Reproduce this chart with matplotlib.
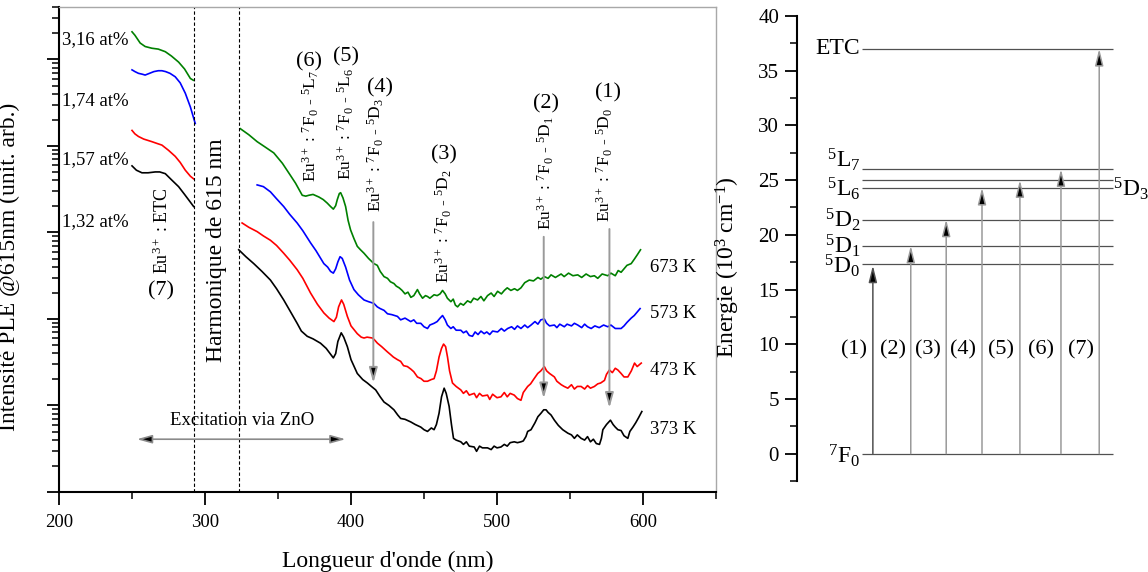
import matplotlib
matplotlib.use('Agg')
import matplotlib.pyplot as plt
import numpy as np
from matplotlib.ticker import LogLocator, NullFormatter, MultipleLocator

plt.rcParams['font.family'] = ['Liberation Serif', 'DejaVu Serif']
plt.rcParams['mathtext.fontset'] = 'custom'
plt.rcParams['mathtext.rm'] = 'Liberation Serif'
plt.rcParams['mathtext.it'] = 'Liberation Serif:italic'
plt.rcParams['mathtext.bf'] = 'Liberation Serif:bold'

# ---------------- donnees (log10 de l'intensite, unit. arb.) ----------------
# 673 K / 3,16 at%
wl_green_a = [250, 252, 255.6, 259, 263.6, 268, 272.8, 277, 281.9, 286, 290, 292]
lg_green_a = [5.32, 5.28, 5.19, 5.15, 5.13, 5.12, 5.09, 5.04, 4.97, 4.89, 4.78, 4.76]
wl_green_b = [324.2, 330, 335.7, 341, 347.1, 353, 358.5, 362, 366.6, 369, 371.1, 374, 378.0, 381,
              383.7, 386, 387.9, 389.5, 390.6, 392.0, 392.9, 394.5, 396.3, 398, 399.7, 402, 404.3,
              406.5, 408.9, 412, 415.7, 418, 420, 422.6, 425, 427, 429.4, 431, 433, 435, 437, 439,
              441, 443, 445.5, 447, 449, 451, 452.4, 454, 456.9, 459, 461, 462.7, 464.5, 466, 468.4,
              470, 471.5, 473.0, 475, 477, 479.8, 482, 484, 486.7, 489, 491, 493.5, 496, 498, 500.4,
              503, 505, 507, 509.5, 512, 514, 516.4, 519, 522.1, 525, 528, 530, 532.4, 535, 537, 540,
              543.9, 546, 549, 552, 555.3, 558, 561, 564, 566.7, 569, 572, 575.9, 578, 581, 583, 585.0,
              587, 589, 591.9, 594, 596, 598.3]
lg_green_b = [4.20, 4.13, 4.05, 3.99, 3.92, 3.80, 3.66, 3.57, 3.43, 3.42, 3.43, 3.44, 3.41, 3.38,
              3.34, 3.30, 3.27, 3.31, 3.38, 3.45, 3.46, 3.40, 3.30, 3.14, 3.03, 2.93, 2.84,
              2.80, 2.76, 2.70, 2.64, 2.62, 2.55, 2.49, 2.47, 2.43, 2.41, 2.38, 2.36, 2.33, 2.29, 2.31,
              2.25, 2.27, 2.34, 2.29, 2.24, 2.27, 2.26, 2.24, 2.28, 2.27, 2.29, 2.33, 2.29, 2.24, 2.20,
              2.23, 2.16, 2.14, 2.18, 2.16, 2.21, 2.19, 2.24, 2.22, 2.26, 2.21, 2.27, 2.30, 2.26, 2.32,
              2.29, 2.33, 2.36, 2.33, 2.35, 2.33, 2.36, 2.42, 2.45, 2.44, 2.48, 2.46, 2.49, 2.47, 2.51, 2.48,
              2.52, 2.49, 2.53, 2.50, 2.51, 2.48, 2.52, 2.49, 2.50, 2.47, 2.52, 2.50, 2.53, 2.50, 2.56, 2.54,
              2.58, 2.62, 2.64, 2.69, 2.74, 2.80]

# 573 K / 1,74 at%
wl_blue_a = [250, 252, 254.4, 257, 259, 262, 265, 268, 270.5, 273, 276, 279.6, 283, 286.5, 290, 293.3]
lg_blue_a = [4.88, 4.86, 4.84, 4.83, 4.82, 4.84, 4.86, 4.87, 4.87, 4.86, 4.84, 4.80, 4.73, 4.61, 4.45, 4.26]
wl_blue_b = [335.7, 340, 344.8, 349, 353.9, 358, 363.1, 367, 372.3, 376, 381.4, 384, 386, 387.9,
             389.5, 391, 392.5, 394, 396.3, 399, 402.0, 405, 408.9, 412, 415.7, 418, 420, 422.6, 425,
             428, 431.8, 434, 437, 440.9, 443, 445, 447.8, 450, 452.4, 454, 456.9, 459, 461, 462.7,
             464.5, 466, 468.4, 470, 472, 475.2, 477, 479, 481, 483.2, 485, 487, 489, 491.2, 493, 495,
             497, 500.4, 503, 505, 507.3, 510, 512, 514, 516.4, 519, 521, 523.3, 526, 528, 530, 532.4,
             534, 536, 539.3, 541, 543, 546.1, 548, 551, 553, 555.3, 558, 560, 562, 564.5, 567, 570,
             573, 575.9, 578, 581, 585.0, 587, 589, 591.9, 594, 596, 598]
lg_blue_b = [3.55, 3.53, 3.47, 3.39, 3.30, 3.21, 3.11, 3.02, 2.88, 2.79, 2.64, 2.60, 2.55, 2.53,
             2.58, 2.66, 2.72, 2.70, 2.60, 2.45, 2.34, 2.28, 2.22, 2.20, 2.18, 2.14, 2.12, 2.10, 2.06,
             2.05, 2.03, 1.99, 2.01, 1.97, 1.99, 1.95, 1.95, 1.91, 1.89, 1.93, 1.95, 1.97, 2.01, 2.04,
             1.99, 1.93, 1.89, 1.91, 1.87, 1.87, 1.84, 1.86, 1.81, 1.80, 1.85, 1.82, 1.86, 1.83, 1.85, 1.82,
             1.86, 1.85, 1.89, 1.86, 1.89, 1.91, 1.88, 1.92, 1.89, 1.93, 1.90, 1.93, 1.97, 1.94, 1.99, 2.00,
             1.95, 1.92, 1.93, 1.90, 1.94, 1.91, 1.94, 1.92, 1.95, 1.93, 1.90, 1.94, 1.91, 1.89, 1.92, 1.90,
             1.93, 1.91, 1.93, 1.89, 1.89, 1.92, 1.96, 2.01, 2.04, 2.08, 2.12]

# 473 K / 1,57 at%
wl_red_a = [250, 252, 254.4, 258, 263.6, 267, 270.5, 275, 279.6, 283, 286.5, 290, 292.2]
lg_red_a = [4.18, 4.14, 4.11, 4.08, 4.05, 4.03, 4.01, 3.95, 3.88, 3.81, 3.72, 3.65, 3.62]
wl_red_b = [325.4, 330, 335.7, 340, 344.8, 349, 353.9, 358, 363.1, 367, 372.3, 377, 381.4, 385,
            388.3, 390, 391.5, 393.5, 395, 397.5, 400, 404.3, 407, 408.9, 411, 414.6, 416, 418.1, 421,
            424.9, 427, 429, 431.8, 434, 436, 438.6, 441, 443, 445.5, 448, 450, 452.4, 455, 456.9,
            458.5, 460.3, 462, 463.4, 464.8, 466.1, 467.5, 469.5, 472, 475.2, 477, 479, 481, 484.4,
            486, 488, 490, 493.5, 495, 497, 500, 502.7, 505, 507, 509, 511.8, 514, 516.4, 518, 521.0,
            523, 525, 527.9, 530, 532.4, 534, 536, 539.3, 541, 544, 546, 548.5, 551, 553, 555, 557.6,
            560, 562, 564, 566.7, 569, 571, 573.6, 575, 577.0, 579, 581, 582.8, 585, 587, 589.6, 592,
            594.2, 596, 598.8]
lg_red_b = [3.11, 3.06, 3.01, 2.96, 2.91, 2.85, 2.76, 2.68, 2.57, 2.47, 2.30, 2.17, 2.07, 2.01,
            1.97, 2.02, 2.14, 2.22, 2.17, 2.03, 1.92, 1.83, 1.79, 1.78, 1.79, 1.78, 1.76, 1.72, 1.68,
            1.62, 1.59, 1.56, 1.53, 1.51, 1.46, 1.45, 1.42, 1.39, 1.33, 1.31, 1.28, 1.28, 1.30, 1.31,
            1.40, 1.56, 1.66, 1.71, 1.68, 1.56, 1.40, 1.26, 1.22, 1.18, 1.14, 1.17, 1.12, 1.14,
            1.09, 1.14, 1.11, 1.12, 1.07, 1.13, 1.09, 1.10, 1.15, 1.10, 1.14, 1.12, 1.08, 1.06, 1.15, 1.22,
            1.25, 1.30, 1.37, 1.40, 1.45, 1.40, 1.37, 1.33, 1.28, 1.24, 1.22, 1.20, 1.24, 1.19, 1.22, 1.22,
            1.19, 1.23, 1.20, 1.22, 1.25, 1.26, 1.29, 1.36, 1.41, 1.38, 1.43, 1.41, 1.37, 1.33, 1.33, 1.40,
            1.49, 1.45, 1.49]

# 373 K / 1,32 at%
wl_black_a = [250, 253, 256.8, 261, 265.9, 269, 272.8, 277, 281.9, 286, 290, 292.2]
lg_black_a = [3.77, 3.72, 3.69, 3.69, 3.70, 3.70, 3.68, 3.61, 3.53, 3.44, 3.35, 3.30]
wl_black_b = [323.1, 328, 333.4, 339, 344.8, 349, 353.9, 358, 363.1, 366, 370.0, 374, 379.1, 383,
              387.9, 389.5, 391, 393.3, 395, 397.5, 400, 404.3, 408, 411.2, 414, 416.9, 420, 422.6,
              426, 429.4, 432, 434.0, 437, 440.9, 444, 447.8, 450, 452.4, 455, 456.9, 458.5, 460.3,
              462, 463.8, 465.2, 467.2, 468.8, 470.2, 472, 475.2, 477, 479, 481, 484.4, 486, 488, 490,
              493.5, 496, 498, 500, 502.7, 505, 507, 509, 511.8, 514, 516.4, 518, 519.8, 521, 523.3,
              526, 528, 530.1, 532, 533.6, 535, 537, 539.3, 542, 545, 548.5, 551, 553, 555, 557.6, 560,
              562, 564, 566, 568, 570.2, 571.5, 572.5, 575, 577.7, 579.5, 581, 582.8, 585, 587, 589.6,
              591, 593.1, 595, 597, 599.2]
lg_black_b = [2.80, 2.72, 2.64, 2.55, 2.45, 2.35, 2.22, 2.10, 1.95, 1.86, 1.80, 1.77, 1.72, 1.66,
              1.55, 1.60, 1.74, 1.84, 1.79, 1.68, 1.53, 1.37, 1.30, 1.26, 1.22, 1.18, 1.10, 1.04,
              1.00, 0.95, 0.89, 0.85, 0.84, 0.81, 0.78, 0.75, 0.72, 0.70, 0.74, 0.72, 0.78, 0.91,
              1.10, 1.20, 1.14, 0.99, 0.78, 0.62, 0.60, 0.58, 0.55, 0.58, 0.53, 0.52, 0.47, 0.53, 0.51,
              0.51, 0.49, 0.53, 0.51, 0.52, 0.55, 0.53, 0.57, 0.58, 0.57, 0.58, 0.59, 0.64, 0.70, 0.72,
              0.80, 0.87, 0.91, 0.95, 0.95, 0.92, 0.89, 0.83, 0.77, 0.72, 0.68, 0.66, 0.62, 0.66, 0.62, 0.60,
              0.64, 0.58, 0.61, 0.56, 0.55, 0.62, 0.72, 0.78, 0.83, 0.78, 0.75, 0.72, 0.71, 0.65, 0.62,
              0.70, 0.75, 0.80, 0.86, 0.93]

conc_labels = ['3,16 at%', '1,74 at%', '1,57 at%', '1,32 at%']
conc_lg = [5.23, 4.52, 3.84, 3.13]
temp_labels = ['673 K', '573 K', '473 K', '373 K']
temp_lg = [2.60, 2.06, 1.41, 0.72]

# transitions (1)..(6) : position (nm), bas du texte, fleche
trans_num = ['(1)', '(2)', '(3)', '(4)', '(5)', '(6)']
trans_txt = [r'Eu$^{3+}$ : $^7$F$_0$ - $^5$D$_0$', r'Eu$^{3+}$ : $^7$F$_0$ - $^5$D$_1$',
             r'Eu$^{3+}$ : $^7$F$_0$ - $^5$D$_2$', r'Eu$^{3+}$ : $^7$F$_0$ - $^5$D$_3$',
             r'Eu$^{3+}$ : $^7$F$_0$ - $^5$L$_6$', r'Eu$^{3+}$ : $^7$F$_0$ - $^5$L$_7$']
trans_wl = [573.6, 533.6, 463.6, 416.9, 396.3, 372.3]
trans_lg = [3.12, 3.03, 2.42, 3.24, 3.61, 3.58]
num_wl = [575.9, 533.6, 463.6, 419.6, 396.3, 371.1]
num_lg = [4.61, 4.49, 3.90, 4.67, 5.03, 4.97]
arrow_wl = [577.0, 532.0, 415.3]
arrow_top = [3.04, 2.95, 3.12]
arrow_tip = [0.97, 1.08, 1.26]

# niveaux d'energie (10^3 cm-1)
levels = [0, 17.3, 19.0, 21.4, 24.3, 25.0, 26.0, 37.0]
trans_E = [17.2, 19.0, 21.4, 24.3, 25.0, 26.0, 37.0]
level_lbl = ['ETC', r'$^5$L$_7$', r'$^5$L$_6$', r'$^5$D$_2$', r'$^5$D$_1$', r'$^5$D$_0$', r'$^7$F$_0$']
level_lbl_y = [36.5, 26.2, 23.5, 20.7, 18.3, 16.5, -0.9]

# ---------------- figure ----------------
fig = plt.figure(figsize=(11.48, 5.72), dpi=100)
ax = fig.add_axes([0.0514, 0.1399, 0.5723, 0.8479])

curves = [(wl_green_a, lg_green_a, wl_green_b, lg_green_b, '#008000'),
          (wl_blue_a, lg_blue_a, wl_blue_b, lg_blue_b, '#0000ff'),
          (wl_red_a, lg_red_a, wl_red_b, lg_red_b, '#ff0000'),
          (wl_black_a, lg_black_a, wl_black_b, lg_black_b, 'black')]
for wa, la, wb, lb, c in curves:
    ax.plot(wa, 10 ** np.array(la), color=c, lw=1.2)
    ax.plot(wb, 10 ** np.array(lb), color=c, lw=1.2)

ax.set_yscale('log')
ax.set_xlim(200, 650)
ax.set_ylim(1, 10 ** 5.607)
ax.set_xticks([200, 300, 400, 500, 600])
ax.set_xticks([250, 350, 450, 550, 650], minor=True)
ax.yaxis.set_major_locator(LogLocator(base=10))
ax.yaxis.set_minor_locator(LogLocator(base=10, subs=np.arange(2, 10)))
ax.yaxis.set_major_formatter(NullFormatter())
ax.yaxis.set_minor_formatter(NullFormatter())
ax.tick_params(which='major', direction='out', length=9, width=1.3, labelsize=13.5, pad=7)
ax.tick_params(which='minor', direction='out', length=5, width=1.1)
ax.tick_params(top=False, right=False, which='both')
for s in ['left', 'bottom']:
    ax.spines[s].set_linewidth(1.5)
for s in ['top', 'right']:
    ax.spines[s].set_color('#a8a8a8')
    ax.spines[s].set_linewidth(1.0)

ax.set_xlabel("Longueur d'onde (nm)", fontsize=17)
ax.xaxis.set_label_coords(0.5, -0.122)
ax.set_ylabel('Intensité PLE @615nm (unit. arb.)', fontsize=17)
ax.yaxis.set_label_coords(-0.059, 0.465)

# lignes de l'harmonique
ax.axvline(292.3, color='k', ls=(0, (3, 2)), lw=0.8)
ax.axvline(323.0, color='k', ls=(0, (3, 2)), lw=0.8)

for t, l in zip(conc_labels, conc_lg):
    ax.text(202.1, 10 ** l, t, fontsize=13.5, ha='left', va='center')
for t, l in zip(temp_labels, temp_lg):
    ax.text(604.5, 10 ** l, t, fontsize=13.5, ha='left', va='center')

ax.text(271.0, 10 ** 3.02, r'Eu$^{3+}$ : ETC', fontsize=13, rotation=90, ha='center', va='center')
ax.text(270.1, 10 ** 2.32, '(7)', fontsize=16, ha='center', va='center')
ax.text(308.2, 10 ** 2.80, 'Harmonique de 615 nm', fontsize=17, rotation=90, ha='center', va='center')
ax.text(325.4, 10 ** 0.83, 'Excitation via ZnO', fontsize=13.5, ha='center', va='center')
ax.annotate('', xy=(253.3, 10 ** 0.61), xytext=(396.3, 10 ** 0.61),
            arrowprops=dict(arrowstyle='<|-|>,head_length=0.9,head_width=0.25',
                            ec='#8a8a8a', fc='black', lw=1.2, shrinkA=0, shrinkB=0))

for n, t, xw, yl, nx_, ny_ in zip(trans_num, trans_txt, trans_wl, trans_lg, num_wl, num_lg):
    ax.text(xw, 10 ** yl, t, fontsize=12.5, rotation=90, ha='center', va='bottom')
    ax.text(nx_, 10 ** ny_, n, fontsize=16, ha='center', va='center')
for xw, top, tip in zip(arrow_wl, arrow_top, arrow_tip):
    ax.annotate('', xy=(xw, 10 ** tip), xytext=(xw, 10 ** top),
                arrowprops=dict(arrowstyle='-|>,head_length=0.9,head_width=0.25',
                                ec='#9a9a9a', fc='black', lw=1.4, shrinkA=0, shrinkB=0))

# ---------------- diagramme d'energie ----------------
ax2 = fig.add_axes([0.6943, 0.1591, 0.3057, 0.8129])
ax2.set_xlim(0, 10)
ax2.set_ylim(-2.5, 40)
for s in ['top', 'right', 'bottom']:
    ax2.spines[s].set_visible(False)
ax2.spines['left'].set_linewidth(1.5)
ax2.set_xticks([])
ax2.yaxis.set_major_locator(MultipleLocator(5))
ax2.yaxis.set_minor_locator(MultipleLocator(2.5))
ax2.tick_params(which='major', direction='out', length=9, width=1.3, labelsize=15, pad=4)
ax2.tick_params(which='minor', direction='out', length=5, width=1.1)
ax2.set_ylabel('Energie (10$^3$ cm$^{-1}$)', fontsize=17)
ax2.yaxis.set_label_coords(-0.157, 0.46)

ax2.hlines(levels, 1.84, 9.01, color='#505050', lw=0.9)

arrow_x = [2.16, 3.24, 4.25, 5.27, 6.35, 7.52, 8.61]
num_x = [1.63, 2.73, 3.74, 4.74, 5.81, 6.95, 8.08]
shaft_c = ['#505050', '#9a9a9a', '#9a9a9a', '#9a9a9a', '#9a9a9a', '#9a9a9a', '#9a9a9a']
for i, (xa, E) in enumerate(zip(arrow_x, trans_E)):
    ax2.annotate('', xy=(xa, E), xytext=(xa, 0),
                 arrowprops=dict(arrowstyle='-|>,head_length=1.0,head_width=0.25',
                                 ec=shaft_c[i], fc='black', lw=1.1, shrinkA=0, shrinkB=0))
    ax2.text(num_x[i], 9.45, '(%d)' % (i + 1), fontsize=16, ha='center', va='center')

for t, yv in zip(level_lbl, level_lbl_y):
    ax2.text(1.80, yv, t, fontsize=17, ha='right', va='baseline')
ax2.text(9.0, 23.5, r'$^5$D$_3$', fontsize=17, ha='left', va='baseline', clip_on=False)

fig.savefig('out.png', dpi=100)
